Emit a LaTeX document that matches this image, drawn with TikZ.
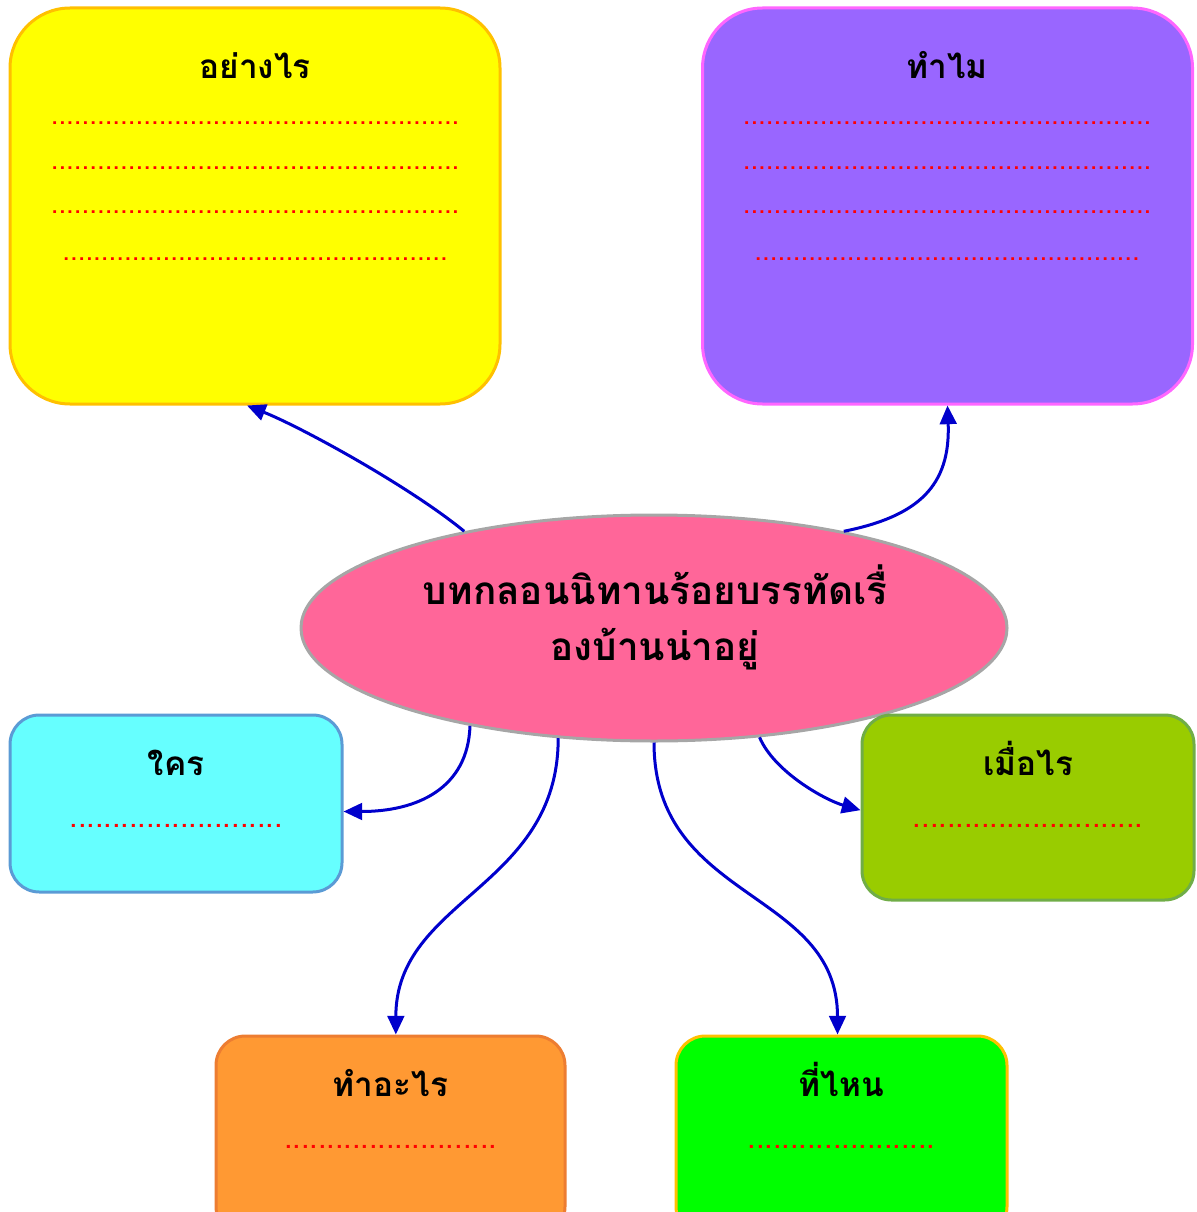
\documentclass[tikz,border=0pt]{standalone}
\usepackage{fontspec}
\newfontfamily\thaifont[Script=Thai]{Loma}
\usetikzlibrary{shapes.geometric,arrows.meta}
\definecolor{howfill}{HTML}{FFFF00}
\definecolor{howline}{HTML}{FFC000}
\definecolor{whyfill}{HTML}{9966FF}
\definecolor{whyline}{HTML}{FF66FF}
\definecolor{hubfill}{HTML}{FF6699}
\definecolor{hubline}{HTML}{A6A6A6}
\definecolor{whofill}{HTML}{66FFFF}
\definecolor{wholine}{HTML}{5B9BD5}
\definecolor{whenfill}{HTML}{99CC00}
\definecolor{whenline}{HTML}{70AD47}
\definecolor{whatfill}{HTML}{FF9933}
\definecolor{whatline}{HTML}{ED7D31}
\definecolor{wherefill}{HTML}{00FF00}
\definecolor{linkblue}{HTML}{0000CC}
\newcommand\dotline[1]{\foreach\i in {1,...,#1}{.}}
\begin{document}
\begin{tikzpicture}[x=0.75pt,y=0.75pt,font=\thaifont,
    box/.style={draw,line width=2.25pt,rounded corners=22pt,inner sep=0pt},
    bigbox/.style={box,rounded corners=45pt,minimum width=367.5pt,minimum height=297pt},
    boxtitle/.style={anchor=base,font=\thaifont\bfseries\fontsize{25}{30}\selectfont},
    dotrow/.style={anchor=base,text=red,font=\thaifont\fontsize{20.8}{25}\selectfont},
    smalldots/.style={dotrow,font=\thaifont\fontsize{23}{27}\selectfont},
    link/.style={draw=linkblue,line width=2.25pt,-{Triangle[length=14pt,width=12.5pt]}}]
  \clip (0,0) rectangle (1196,-1212);
  % top boxes
  \node[bigbox,fill=howfill,draw=howline] (how) at (255,-206) {};
  \node[boxtitle] (how-t) at (255,-79) {อย่างไร};
  \node[dotrow] (how-d1) at (255,-125) {\dotline{53}};
  \node[dotrow] (how-d2) at (255,-170) {\dotline{53}};
  \node[dotrow] (how-d3) at (255,-214) {\dotline{53}};
  \node[dotrow] (how-d4) at (255,-261) {\dotline{50}};
  \node[bigbox,fill=whyfill,draw=whyline] (why) at (947.5,-206) {};
  \node[boxtitle] (why-t) at (947,-79) {ทำไม};
  \node[dotrow] (why-d1) at (947,-125) {\dotline{53}};
  \node[dotrow] (why-d2) at (947,-170) {\dotline{53}};
  \node[dotrow] (why-d3) at (947,-214) {\dotline{53}};
  \node[dotrow] (why-d4) at (947,-261) {\dotline{50}};
  % centre
  \node[ellipse,draw=hubline,fill=hubfill,line width=2.25pt,minimum width=529.5pt,minimum height=169.5pt] (hub) at (654,-628) {};
  \node[align=center,font=\thaifont\bfseries\fontsize{29}{42}\selectfont] (hub-t) at (655,-617) {บทกลอนนิทานร้อยบรรทัดเรื่\\องบ้านน่าอยู่};
  % middle boxes
  \node[box,fill=whofill,draw=wholine,minimum width=249pt,minimum height=132.75pt] (who) at (176,-803.5) {};
  \node[boxtitle] (who-t) at (176,-775) {ใคร};
  \node[smalldots] (who-d) at (176,-827) {\dotline{25}};
  \node[box,fill=whenfill,draw=whenline,minimum width=249pt,minimum height=138.75pt] (when) at (1028,-807.5) {};
  \node[boxtitle] (when-t) at (1028,-775) {เมื่อไร};
  \node[smalldots] (when-d) at (1028,-827) {\dotline{27}};
  % bottom boxes
  \node[box,fill=whatfill,draw=whatline,minimum width=261.75pt,minimum height=150pt] (what) at (390.5,-1136) {};
  \node[boxtitle] (what-t) at (390.5,-1096) {ทำอะไร};
  \node[smalldots] (what-d) at (390.5,-1148) {\dotline{25}};
  \node[box,fill=wherefill,draw=howline,minimum width=248.25pt,minimum height=150pt] (where) at (841.5,-1136) {};
  \node[boxtitle] (where-t) at (841.5,-1096) {ที่ไหน};
  \node[smalldots] (where-d) at (841.5,-1148) {\dotline{22}};
  % arrows
  \draw[link] (hub.153) .. controls +(-55,45) and +(55,-22) .. ([xshift=-6]how.south);
  \draw[link] (hub.27) .. controls +(75,15) and +(3,-80) .. (why.south);
  \draw[link] (hub.208) .. controls +(-2,-63) and +(73,0) .. ([yshift=-6]who.east);
  \draw[link] (hub.229) .. controls +(0,-150) and +(0,136) .. ([xshift=4]what.north);
  \draw[link] (hub.270) .. controls +(0,-160) and +(0,146) .. ([xshift=-3]where.north);
  \draw[link] (hub.314) .. controls +(15,-35) and +(-35,10) .. ([yshift=-2]when.west);
\end{tikzpicture}
\end{document}
